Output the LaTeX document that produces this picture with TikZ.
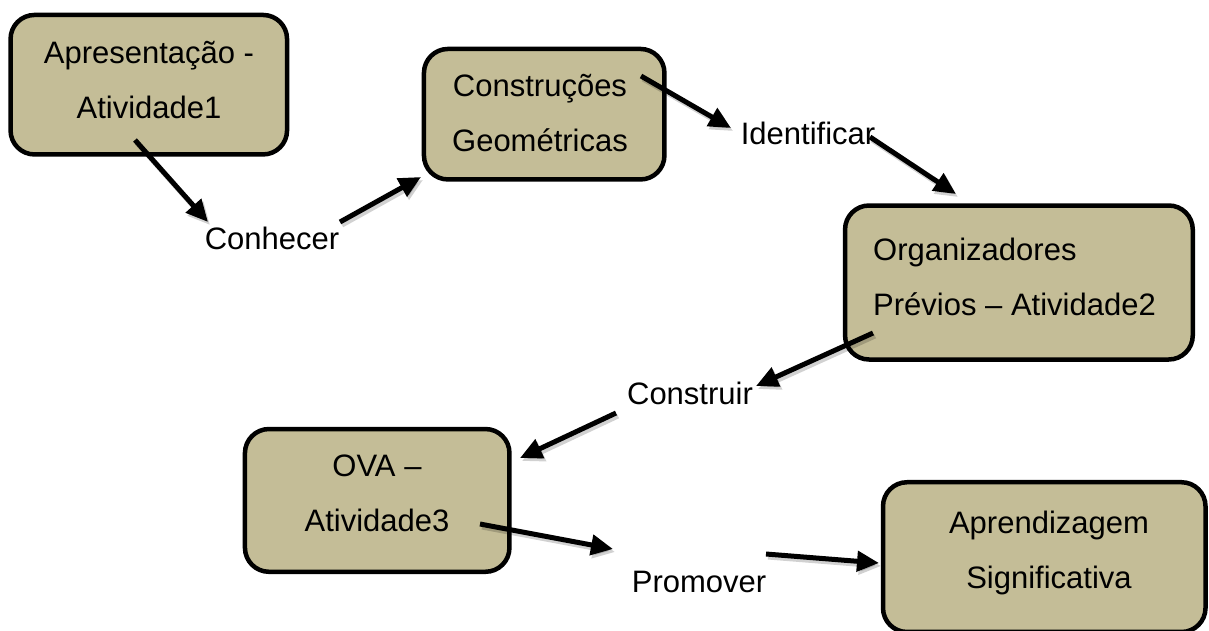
\documentclass[tikz,border=0pt]{standalone}
\usepackage{fontspec}
\setmainfont{Liberation Sans}
\usetikzlibrary{arrows.meta}
\definecolor{boxtan}{HTML}{C4BD97}
\begin{document}
\begin{tikzpicture}[x=1pt,y=-1pt,
  box/.style={draw=black, line width=4.5pt, fill=boxtan, rounded corners=24pt, inner sep=0pt},
  boxtext/.style={align=center, font=\fontsize{31}{55}\selectfont, inner sep=0pt},
  lbl/.style={font=\fontsize{31}{37}\selectfont, inner sep=0pt},
  arr/.style={line width=5pt, -{Triangle[length=22pt,width=20pt]}},
  arrshadow/.style={line width=5pt, -{Triangle[length=22pt,width=20pt]}, black, opacity=0.18}]
\useasboundingbox (0,0) rectangle (1209,630);
\clip (0,0) rectangle (1209,630);
% boxes
\node[box, minimum width=276.5pt, minimum height=139.5pt] (b1) at (148.8,84.7) {};
\node[box, minimum width=240.5pt, minimum height=130.5pt] (b2) at (544.2,114.2) {};
\node[box, minimum width=347.7pt, minimum height=154pt] (b3) at (1018.9,282.5) {};
\node[box, minimum width=264.5pt, minimum height=142.75pt] (b4) at (377.2,500.4) {};
\node[box, minimum width=322.5pt, minimum height=149.75pt] (b5) at (1044.25,557.1) {};
% box texts
\node[boxtext] (t1) at (149,80.5) {Apresentação -\\Atividade1};
\node[boxtext] (t2) at (540,113) {Construções\\Geométricas};
\node[boxtext, align=left, anchor=west] (t3) at (873,277) {Organizadores\\Prévios – Atividade2};
\node[boxtext] (t4) at (377,493.5) {OVA –\\Atividade3};
\node[boxtext] (t5) at (1049,553.2) {Aprendizagem\\Significativa};
% labels
\node[lbl] (l1) at (272,238) {Conhecer};
\node[lbl] (l2) at (808,133) {Identificar};
\node[lbl] (l3) at (690,393) {Construir};
\node[lbl] (l4) at (699,582) {Promover};
% connector end points
\coordinate (s1) at (135,140); \coordinate (e1) at (208,222);
\coordinate (s2) at (340,222); \coordinate (e2) at (421,177);
\coordinate (s3) at (641,76);  \coordinate (e3) at (731,128);
\coordinate (s4) at (870,137); \coordinate (e4) at (956,194);
\coordinate (s5) at (873,333); \coordinate (e5) at (756,386);
\coordinate (s6) at (616,413); \coordinate (e6) at (520,458);
\coordinate (s7) at (480,524); \coordinate (e7) at (613,549);
\coordinate (s8) at (766,554); \coordinate (e8) at (879,563);
% shadows
\foreach \i in {1,...,8}{
  \draw[arrshadow, transform canvas={shift={(2pt,-3pt)}}] (s\i) -- (e\i);
}
% connectors
\draw[arr] (s1) -- (e1);
\draw[arr] (s2) -- (e2);
\draw[arr] (s3) -- (e3);
\draw[arr] (s4) -- (e4);
\draw[arr] (s5) -- (e5);
\draw[arr] (s6) -- (e6);
\draw[arr] (s7) -- (e7);
\draw[arr] (s8) -- (e8);
\end{tikzpicture}
\end{document}
